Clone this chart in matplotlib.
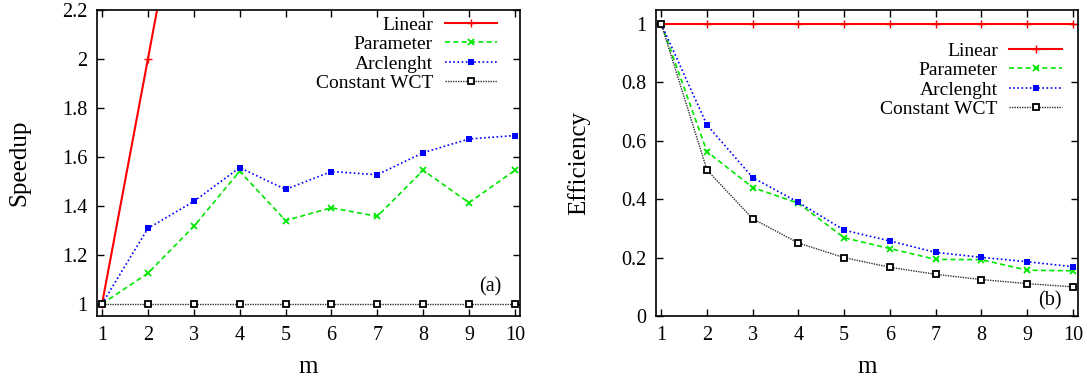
import numpy as np
import matplotlib
matplotlib.use('Agg')
from matplotlib import pyplot as plt
from matplotlib.ticker import FormatStrFormatter

plt.rcParams['font.family'] = ['Liberation Serif', 'DejaVu Serif']

m = [1, 2, 3, 4, 5, 6, 7, 8, 9, 10]

# speedup
sp_linear = [1, 2, 3, 4, 5, 6, 7, 8, 9, 10]
sp_param = [1, 1.125, 1.316, 1.541, 1.34, 1.392, 1.357, 1.545, 1.413, 1.545]
sp_arc = [1, 1.308, 1.418, 1.556, 1.467, 1.54, 1.527, 1.617, 1.673, 1.687]
sp_const = [1, 1, 1, 1, 1, 1, 1, 1, 1, 1]

# efficiency
ef_linear = [1, 1, 1, 1, 1, 1, 1, 1, 1, 1]
ef_param = [1, 0.563, 0.44, 0.386, 0.268, 0.231, 0.194, 0.193, 0.157, 0.155]
ef_arc = [1, 0.654, 0.474, 0.389, 0.294, 0.257, 0.218, 0.201, 0.186, 0.169]
ef_const = [1, 0.5, 0.333, 0.25, 0.2, 0.167, 0.143, 0.125, 0.111, 0.1]

labels = ["Linear", "Parameter", "Arclenght", "Constant WCT"]


def draw(ax, ys, ylim, yticks, ylabel, tag, tagpos, legloc):
    ax.plot(m, ys[0], color='#ff0000', lw=1.5, marker='+', ms=6, mew=1.0,
            label=labels[0])
    ax.plot(m, ys[1], color='#00e600', lw=1.2, ls=(0, (3, 2)), marker='x',
            ms=5, mew=1.3, label=labels[1])
    ax.plot(m, ys[2], color='#0000ff', lw=1.2, ls=(0, (1, 1.5)), marker='s',
            ms=4.5, mew=0, label=labels[2])
    ax.plot(m, ys[3], color='#303030', lw=1.0, ls=(0, (1, 0.8)), marker='s',
            ms=5, mfc='white', mec='black', mew=1.3, label=labels[3])
    ax.set_xlim(0.89, 10.11)
    ax.set_ylim(*ylim)
    ax.set_xticks(m)
    ax.set_yticks(yticks)
    ax.yaxis.set_major_formatter(FormatStrFormatter('%g'))
    ax.tick_params(direction='in', length=5, width=1, top=True, right=True,
                   labelsize=14.5)
    ax.tick_params(axis='x', pad=7)
    ax.tick_params(axis='y', pad=7)
    for s in ax.spines.values():
        s.set_linewidth(1.2)
    ax.set_xlabel('m', fontsize=18)
    ax.xaxis.label.set_va('baseline')
    ax.xaxis.set_label_coords(0.5, -0.186)
    ax.set_ylabel(ylabel, fontsize=18)
    ax.yaxis.label.set_va('center')
    ax.yaxis.set_label_coords(-0.183, 0.5)
    ax.text(tagpos[0], tagpos[1], tag, transform=ax.transAxes, fontsize=14.5,
            ha='right', va='center')
    ax.legend(loc='upper right', bbox_to_anchor=legloc, frameon=False,
              markerfirst=False, fontsize=14, handlelength=2.7,
              handletextpad=0.6, labelspacing=0.1, borderpad=0,
              borderaxespad=0)


fig = plt.figure(figsize=(10.9, 3.79), dpi=100)
ax1 = fig.add_axes([0.089, 0.166, 0.388, 0.808])
ax2 = fig.add_axes([0.602, 0.166, 0.387, 0.808])

draw(ax1, [sp_linear, sp_param, sp_arc, sp_const], (0.95, 2.2),
     [1, 1.2, 1.4, 1.6, 1.8, 2, 2.2], 'Speedup', '(a)', (0.957, 0.095),
     (0.946, 0.98))
draw(ax2, [ef_linear, ef_param, ef_arc, ef_const], (0, 1.048),
     [0, 0.2, 0.4, 0.6, 0.8, 1], 'Efficiency', '(b)', (0.96, 0.049),
     (0.962, 0.895))

fig.savefig('out.png', dpi=100)
